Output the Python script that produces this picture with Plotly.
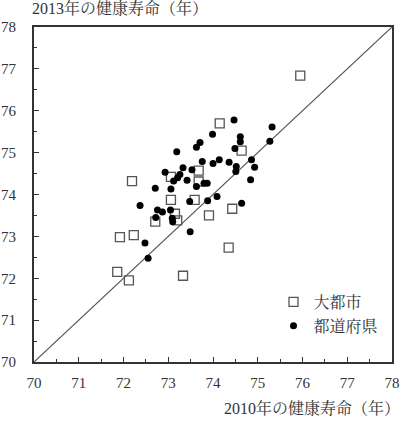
import plotly.graph_objects as go

# 大都市 (major cities): 2010 vs 2013 healthy life expectancy
city_2010 = [75.95, 74.15, 74.64, 72.19, 73.68, 73.06, 73.68, 73.06, 73.59, 74.43,
             73.91, 73.15, 72.71, 73.20, 71.92, 72.23, 74.35, 71.86, 72.12, 73.33]
city_2013 = [76.84, 75.70, 75.05, 74.32, 74.57, 74.42, 74.31, 73.87, 73.87, 73.66,
             73.50, 73.54, 73.35, 73.38, 72.98, 73.03, 72.73, 72.15, 71.95, 72.06]

# 都道府県 (prefectures)
pref_2010 = [74.47, 73.99, 74.61, 74.61, 73.71, 73.63, 74.49, 73.19, 73.76, 74.00,
             74.14, 74.36, 74.52, 74.51, 73.33, 73.53, 72.93, 73.26, 73.21, 73.12,
             73.42, 73.80, 73.87, 73.63, 72.71, 73.06, 74.84, 74.09, 73.88, 73.48,
             72.37, 74.64, 72.76, 72.87, 73.05, 72.72, 73.09, 73.10, 73.49, 72.48,
             72.55, 75.32, 75.27, 74.86, 74.93]
pref_2013 = [75.78, 75.44, 75.38, 75.26, 75.24, 75.13, 75.10, 75.02, 74.79, 74.74,
             74.83, 74.77, 74.67, 74.55, 74.64, 74.59, 74.53, 74.48, 74.40, 74.32,
             74.34, 74.27, 74.27, 74.19, 74.15, 74.13, 74.35, 73.95, 73.85, 73.83,
             73.74, 73.79, 73.63, 73.58, 73.63, 73.45, 73.43, 73.35, 73.11, 72.84,
             72.48, 75.61, 75.27, 74.83, 74.65]

axis_range = [70, 78]
tick_vals = [70, 71, 72, 73, 74, 75, 76, 77, 78]

FONT = "Liberation Serif, Noto Serif CJK JP, Noto Sans CJK JP, serif"
TXT = "#333333"

fig = go.Figure()
fig.add_trace(go.Scatter(x=axis_range, y=axis_range, mode="lines",
                         line=dict(color="#555555", width=1.2),
                         showlegend=False, hoverinfo="skip"))
fig.add_trace(go.Scatter(x=city_2010, y=city_2013, mode="markers", name="大都市",
                         marker=dict(symbol="square-open", size=9,
                                     color="#555555", line=dict(width=1.3, color="#555555"))))
fig.add_trace(go.Scatter(x=pref_2010, y=pref_2013, mode="markers", name="都道府県",
                         marker=dict(symbol="circle", size=7, color="#000000")))

axis_common = dict(range=axis_range, tickvals=tick_vals, showgrid=False, zeroline=False,
                   showline=True, linecolor="#333333", linewidth=1.8, mirror=True,
                   ticks="inside", ticklen=5, tickwidth=1.3, tickcolor="#333333",
                   minor=dict(dtick=0.5, ticks="inside", ticklen=3, tickwidth=1, tickcolor="#333333"),
                   tickfont=dict(family=FONT, size=15, color=TXT), automargin=False)

fig.update_xaxes(**axis_common, ticklabelstandoff=6)
fig.update_yaxes(**axis_common, ticklabelstandoff=13)

fig.update_layout(
    width=408, height=427,
    margin=dict(l=34, r=15.5, t=27, b=64.5),
    plot_bgcolor="white", paper_bgcolor="white",
    font=dict(family=FONT, color=TXT),
    legend=dict(x=0.669, y=0.23, xanchor="left", yanchor="top",
                bgcolor="rgba(0,0,0,0)", font=dict(family=FONT, size=16, color=TXT),
                tracegroupgap=0, itemwidth=30),
    annotations=[
        dict(text="2013年の健康寿命（年）", xref="paper", yref="paper", x=0.2064, y=1.056,
             xanchor="center", yanchor="middle", showarrow=False, xshift=12,
             font=dict(family=FONT, size=16, color=TXT)),
        dict(text="2010年の健康寿命（年）", xref="paper", yref="paper", x=0.7657, y=-0.136,
             xanchor="center", yanchor="middle", showarrow=False, xshift=4,
             font=dict(family=FONT, size=16, color=TXT)),
    ],
)

fig.write_html("out.html")
